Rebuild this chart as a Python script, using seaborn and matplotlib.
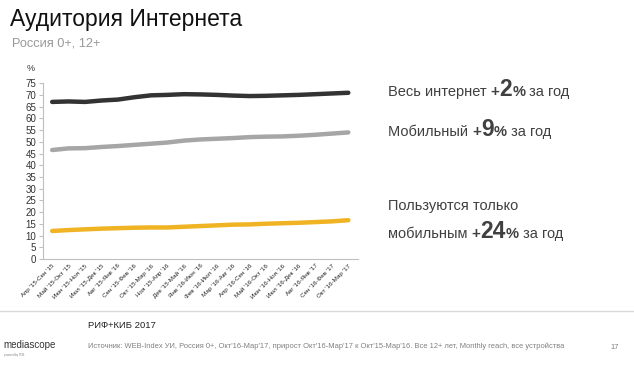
import pandas as pd
import matplotlib.pyplot as plt
import seaborn as sns
from matplotlib.lines import Line2D
from matplotlib.transforms import IdentityTransform

# Data
periods = [
    "Апр '15-Сен '15", "Май '15-Окт '15", "Июн '15-Ноя '15", "Июл '15-Дек '15",
    "Авг '15-Янв '16", "Сен '15-Фев '16", "Окт '15-Мар '16", "Ноя '15-Апр '16",
    "Дек '15-Май '16", "Янв '16-Июн '16", "Фев '16-Июл '16", "Мар '16-Авг '16",
    "Апр '16-Сен '16", "Май '16-Окт '16", "Июн '16-Ноя '16", "Июл '16-Дек '16",
    "Авг '16-Янв '17", "Сен '16-Фев '17", "Окт '16-Мар '17",
]
all_internet = [67.0, 67.2, 67.0, 67.6, 68.0, 69.0, 69.8, 70.0, 70.3, 70.2,
                70.0, 69.7, 69.5, 69.6, 69.8, 70.0, 70.3, 70.6, 70.9]
mobile = [46.5, 47.2, 47.3, 47.8, 48.2, 48.7, 49.2, 49.7, 50.5, 51.0,
          51.3, 51.6, 52.0, 52.2, 52.3, 52.6, 53.0, 53.5, 54.0]
mobile_only = [12.0, 12.4, 12.7, 13.0, 13.2, 13.4, 13.5, 13.5, 13.8, 14.1,
               14.4, 14.7, 14.8, 15.1, 15.3, 15.5, 15.8, 16.1, 16.6]
series_names = ["Весь интернет", "Мобильный", "Только мобильный"]
colors = ["#333333", "#a6a6a6", "#f0b323"]
y_ticks = list(range(0, 80, 5))

df = pd.DataFrame({
    "idx": list(range(len(periods))) * 3,
    "value": all_internet + mobile + mobile_only,
    "series": [s for s in series_names for _ in periods],
})

sns.set_style("white")
plt.rcParams["font.family"] = ["Liberation Sans", "DejaVu Sans"]

fig = plt.figure(figsize=(6.34, 3.65), dpi=100)
ax = fig.add_axes([0.068, 0.29, 0.497, 0.4822])

sns.lineplot(data=df, x="idx", y="value", hue="series", palette=colors,
             linewidth=3.2, legend=False, ax=ax, solid_capstyle="round")

ax.set_xlim(-0.55, 18.6)
ax.set_ylim(0, 75)
ax.set_yticks(y_ticks)
ax.set_xticks(range(len(periods)))
ax.set_xticklabels(periods, rotation=45, ha="right", rotation_mode="anchor",
                   fontsize=4.5, color="#222222")
ax.tick_params(axis="y", labelsize=7, labelcolor="#333333", length=3,
               color="#bfbfbf", width=0.8, pad=2, left=True)
ax.tick_params(axis="x", length=0, pad=3)
ax.set_xlabel("")
ax.set_ylabel("")
for s in ["top", "right"]:
    ax.spines[s].set_visible(False)
for s in ["left", "bottom"]:
    ax.spines[s].set_color("#bfbfbf")
    ax.spines[s].set_linewidth(0.8)
ax.text(-0.04, 1.06, "%", transform=ax.transAxes, fontsize=6.5,
        color="#333333", ha="center", va="bottom")

# Titles
fig.text(10 / 634, 1 - 26 / 365, "Аудитория Интернета", fontsize=16.5, color="#111111")
fig.text(12 / 634, 1 - 46 / 365, "Россия 0+, 12+", fontsize=9.2, color="#999999")

# Right side annotations, mixed sizes on one baseline
renderer = fig.canvas.get_renderer()


def rich_line(x_px, baseline_px, pieces):
    x = x_px
    y = 365 - baseline_px
    for txt, size, bold in pieces:
        t = fig.text(x, y, txt, transform=IdentityTransform(), fontsize=size,
                     fontweight="bold" if bold else "normal", color="#404040",
                     va="baseline", ha="left")
        x = t.get_window_extent(renderer).x1


normal, big = 10.5, 16.5
rich_line(388, 96, [("Весь интернет ", normal, False), ("+", 11, True), ("2", big, True),
                    ("%", normal, True), (" за год", normal, False)])
rich_line(388, 136, [("Мобильный ", normal, False), ("+", 11, True), ("9", big, True),
                     ("%", normal, True), (" за год", normal, False)])
rich_line(388, 210, [("Пользуются только", normal, False)])
rich_line(388, 238, [("мобильным ", normal, False), ("+", 11, True), ("24", big, True),
                     ("%", normal, True), (" за год", normal, False)])

# Footer
fig.add_artist(Line2D([0, 1], [1 - 311 / 365] * 2, color="#d9d9d9", linewidth=1,
                      transform=fig.transFigure))
fig.text(88 / 634, 1 - 328 / 365, "РИФ+КИБ 2017", fontsize=6.8, color="#222222")
fig.text(88 / 634, 1 - 348 / 365,
         "Источник: WEB-Index УИ, Россия 0+, Окт'16-Мар'17, прирост Окт'16-Мар'17 к "
         "Окт'15-Мар'16. Все 12+ лет, Monthly reach, все устройства",
         fontsize=5.4, color="#808080")
fig.text(610 / 634, 1 - 349 / 365, "17", fontsize=5.5, color="#808080")
fig.text(3 / 634, 1 - 348 / 365, "mediascope", fontsize=7, color="#333333")
fig.text(4 / 634, 1 - 356 / 365, "powered by TNS", fontsize=2, color="#808080")

fig.savefig("out.png", dpi=100)
